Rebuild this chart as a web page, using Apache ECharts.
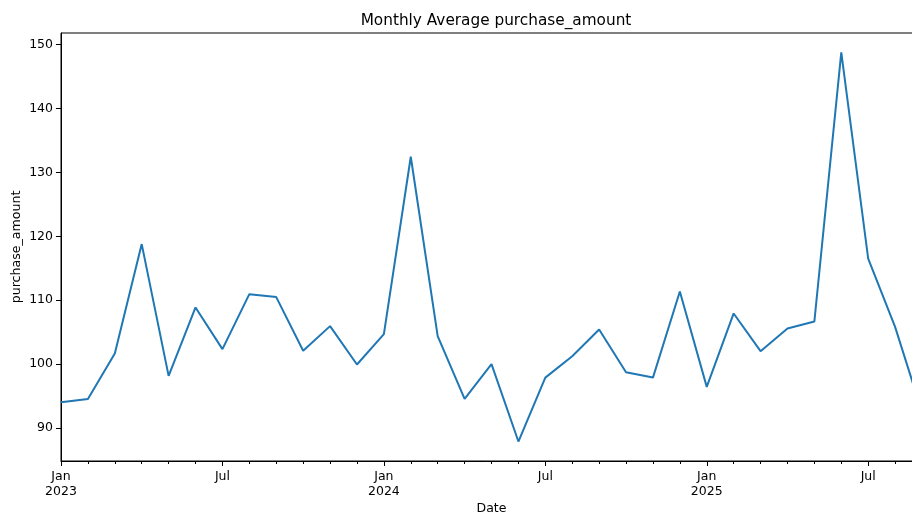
<!DOCTYPE html>
<html>
<head>
<meta charset="utf-8">
<script src="https://cdn.jsdelivr.net/npm/echarts@6/dist/echarts.min.js"></script>
<style>
  html, body { margin: 0; padding: 0; background: #fff; }
  #chart { width: 912px; height: 515px; }
</style>
</head>
<body>
<div id="chart"></div>
<script>
// Months from Jan 2023 through Sep 2025
const months = [
  '2023-01', '2023-02', '2023-03', '2023-04', '2023-05', '2023-06',
  '2023-07', '2023-08', '2023-09', '2023-10', '2023-11', '2023-12',
  '2024-01', '2024-02', '2024-03', '2024-04', '2024-05', '2024-06',
  '2024-07', '2024-08', '2024-09', '2024-10', '2024-11', '2024-12',
  '2025-01', '2025-02', '2025-03', '2025-04', '2025-05', '2025-06',
  '2025-07', '2025-08', '2025-09'
];

// Monthly average purchase amount
const avgPurchase = [
  94.05, 94.57, 101.67, 118.78, 98.17, 108.87,
  102.35, 110.95, 110.49, 102.09, 105.95, 99.95,
  104.69, 132.44, 104.38, 94.57, 100.0, 87.9,
  97.9, 101.25, 105.42, 98.75, 97.9, 111.37,
  96.45, 107.93, 102.03, 105.58, 106.68, 148.75,
  116.5, 105.84, 92.5
];

const yTicks = [90, 100, 110, 120, 130, 140, 150];
const monthNames = ['Jan', 'Feb', 'Mar', 'Apr', 'May', 'Jun',
                    'Jul', 'Aug', 'Sep', 'Oct', 'Nov', 'Dec'];

// 5% padding around the data range, like the usual autoscaled view
const dMin = Math.min(...avgPurchase);
const dMax = Math.max(...avgPurchase);
const pad = (dMax - dMin) * 0.05;

const FONT = 'DejaVu Sans';
const TXT = '#000';

function monthLabel(value) {
  const [yr, mo] = value.split('-');
  const m = parseInt(mo, 10);
  if (m === 1) return monthNames[0] + '\n' + yr;
  if (m === 7) return monthNames[6];
  return '';
}
const isMajor = (i) => i % 6 === 0;

const chart = echarts.init(document.getElementById('chart'), null, { renderer: 'canvas' });

chart.setOption({
  animation: false,
  backgroundColor: '#fff',
  title: {
    text: 'Monthly Average purchase_amount',
    left: 491, top: 9, textAlign: 'center',
    textStyle: { fontFamily: FONT, fontSize: 15.3, fontWeight: 'normal', color: TXT }
  },
  grid: {
    left: 61, right: -10, top: 33, bottom: 54,
    containLabel: false,
    outerBoundsMode: 'none',
    show: true, borderColor: '#000', borderWidth: 1, backgroundColor: 'transparent'
  },
  xAxis: [
    {
      type: 'category',
      data: months,
      boundaryGap: false,
      name: 'Date',
      nameLocation: 'middle',
      nameGap: 41,
      nameMoveOverlap: false,
      nameTextStyle: { fontFamily: FONT, fontSize: 12.5, color: TXT },
      axisLine: { show: true, lineStyle: { color: '#000', width: 1 } },
      axisTick: { show: true, length: 5, interval: (i) => isMajor(i), lineStyle: { color: '#000', width: 1 } },
      axisLabel: {
        interval: (i) => isMajor(i),
        formatter: monthLabel,
        fontFamily: FONT, fontSize: 12.5, color: TXT, margin: 8, lineHeight: 15
      },
      splitLine: { show: false }
    },
    {
      // monthly minor ticks
      type: 'category',
      data: months,
      boundaryGap: false,
      position: 'bottom',
      axisLine: { show: false },
      axisTick: { show: true, length: 3, interval: 0, lineStyle: { color: '#000', width: 1 } },
      axisLabel: { show: false },
      splitLine: { show: false }
    }
  ],
  yAxis: {
    type: 'value',
    min: dMin - pad,
    max: dMax + pad,
    name: 'purchase_amount',
    nameLocation: 'middle',
    nameGap: 38,
    nameMoveOverlap: false,
    nameTextStyle: { fontFamily: FONT, fontSize: 12.6, color: TXT },
    axisLine: { show: true, lineStyle: { color: '#000', width: 1 } },
    axisTick: { show: true, length: 5, customValues: yTicks, lineStyle: { color: '#000', width: 1 } },
    axisLabel: { customValues: yTicks, fontFamily: FONT, fontSize: 12.5, color: TXT, margin: 8 },
    splitLine: { show: false }
  },
  series: [{
    type: 'line',
    data: avgPurchase,
    xAxisIndex: 0,
    showSymbol: false,
    symbol: 'none',
    lineStyle: { color: '#1f77b4', width: 2 },
    itemStyle: { color: '#1f77b4' }
  }]
});
</script>
</body>
</html>
